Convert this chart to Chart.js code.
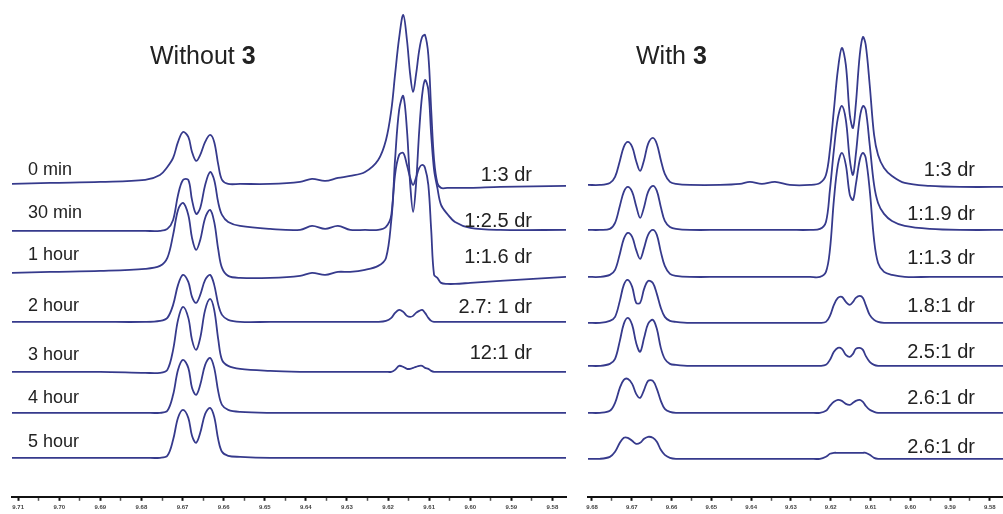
<!DOCTYPE html>
<html>
<head>
<meta charset="utf-8">
<script src="https://cdn.jsdelivr.net/npm/chart.js@4"></script>
<style>
  html, body { margin: 0; padding: 0; background: #fff; overflow: hidden; width: 1003px; height: 514px; }
  canvas { position: absolute; top: 0; }
  #leftChart { left: 0; }
  #rightChart { left: 576px; }
</style>
</head>
<body>
<canvas id="leftChart" width="575" height="514"></canvas>
<canvas id="rightChart" width="427" height="514"></canvas>
<script>
// chemical shift (ppm) of the points
const leftPpm = [9.7115, 9.7022, 9.6900, 9.6791, 9.6755, 9.6737, 9.6723, 9.6711, 9.6699, 9.6686,
  9.6677, 9.6667, 9.6657, 9.6645, 9.6633, 9.6623, 9.6613, 9.6604, 9.6589, 9.6560,
  9.6487, 9.6414, 9.6385, 9.6353, 9.6322, 9.6292, 9.6256, 9.6224, 9.6205, 9.6192,
  9.6183, 9.6173, 9.6163, 9.6154, 9.6146, 9.6139, 9.6132, 9.6124, 9.6117, 9.6110,
  9.6102, 9.6095, 9.6088, 9.6080, 9.6071, 9.6056, 9.6037, 9.6000, 9.5927, 9.5767];

const rightPpm = [9.6810, 9.6780, 9.6755, 9.6742, 9.6730, 9.6720, 9.6710, 9.6699, 9.6689, 9.6679,
  9.6669, 9.6659, 9.6647, 9.6637, 9.6627, 9.6617, 9.6604, 9.6589, 9.6554, 9.6478,
  9.6428, 9.6403, 9.6373, 9.6340, 9.6303, 9.6252, 9.6227, 9.6212, 9.6202, 9.6192,
  9.6182, 9.6172, 9.6162, 9.6152, 9.6144, 9.6137, 9.6127, 9.6119, 9.6112, 9.6102,
  9.6091, 9.6081, 9.6066, 9.6046, 9.6014, 9.5951, 9.5875, 9.5750];

// "Without 3" intensities, relative to each spectrum's baseline
const left0min = [-1, 0, 1, 3, 8, 16, 25, 41, 51, 46, 31, 22, 28, 41, 48, 41, 18, 3, -1, -1,
  -1, 1, 4, 2, 5, 7, 11, 23, 43, 73, 108, 145, 168, 143, 108, 91, 108, 133, 146, 148,
  128, 73, 23, 0, -5, -5, -5, -5, -4, -3];
const left30min = [-1, -1, -1, -1, -1, 1, 10, 35, 50, 50, 30, 16, 22, 45, 58, 50, 27, 15, 8, 4,
  1, 0, 4, 1, 4, 0, 0, 0, 3, 15, 70, 120, 134, 100, 45, 18, 45, 100, 135, 150,
  140, 95, 60, 42, 25, 16, 8, 2, 0, 0];
const left1h = [-1, 0, 1, 3, 6, 14, 37, 62, 69, 57, 34, 22, 32, 54, 62, 50, 22, 4, -4, -6,
  -6, -4, -1, -3, 0, 0, 2, 6, 14, 52, 97, 117, 119, 107, 94, 87, 94, 104, 107, 104,
  87, 42, -3, -6, -11, -12, -12, -11, -9, -5];
const left2h = [0, 0, 0, 0, 1, 4, 17, 37, 47, 40, 25, 19, 27, 42, 47, 37, 17, 7, 2, 0,
  0, 0, 0, 0, 0, 0, 0, 0, 1, 4, 9, 12, 10, 6, 5, 6, 9, 11, 12, 9,
  4, 1, 0, 0, 0, 0, 0, 0, 0, 0];
const left3h = [0, 0, 0, -1, -1, 2, 22, 52, 65, 54, 32, 22, 34, 62, 73, 62, 32, 12, 6, 3,
  1, 0, 0, 0, 0, 0, 0, 0, 0, 0, 2, 6, 5, 3, 3, 4, 5, 6, 6, 4,
  3, 1, 0, 0, 0, 0, 0, 0, 0, 0];
const left4h = [0, 0, 0, 0, 0, 2, 18, 43, 53, 45, 25, 18, 28, 48, 55, 45, 21, 8, 3, 1,
  0, 0, 0, 0, 0, 0, 0, 0, 0, 0, 0, 0, 0, 0, 0, 0, 0, 0, 0, 0,
  0, 0, 0, 0, 0, 0, 0, 0, 0, 0];
const left5h = [0, 0, 0, 0, 0, 2, 18, 40, 48, 40, 22, 15, 25, 44, 50, 41, 18, 6, 2, 1,
  0, 0, 0, 0, 0, 0, 0, 0, 0, 0, 0, 0, 0, 0, 0, 0, 0, 0, 0, 0,
  0, 0, 0, 0, 0, 0, 0, 0, 0, 0];

// "With 3" intensities
const right0min = [0, 0, 2, 8, 24, 38, 43, 38, 24, 14, 25, 41, 47, 41, 25, 11, 3, 1, 0, 0,
  1, 3, 1, 3, 0, 0, 2, 10, 35, 75, 115, 137, 120, 70, 57, 80, 130, 148, 140, 100,
  50, 30, 17, 9, 2, -1, -2, -2];
const right30min = [0, 0, 1, 7, 24, 38, 43, 38, 24, 12, 23, 38, 44, 39, 23, 9, 3, 1, 0, 0,
  0, 0, 0, 0, 0, 0, 1, 8, 40, 80, 112, 124, 110, 70, 55, 75, 112, 124, 120, 85,
  45, 27, 16, 9, 4, 1, 0, 0];
const right1h = [0, 0, 2, 7, 23, 38, 44, 40, 27, 18, 29, 42, 47, 42, 25, 11, 3, 1, 0, 0,
  0, 0, 0, 0, 0, 0, 0, 5, 27, 77, 112, 124, 112, 82, 77, 92, 117, 124, 119, 87,
  37, 14, 5, 2, 0, 0, 0, 0];
const right2h = [0, 0, 2, 6, 22, 38, 43, 36, 20, 20, 34, 42, 40, 29, 15, 6, 2, 1, 0, 0,
  0, 0, 0, 0, 0, 0, 0, 1, 7, 18, 25, 26, 21, 18, 21, 25, 27, 25, 18, 8,
  3, 1, 0, 0, 0, 0, 0, 0];
const right3h = [0, 0, 2, 7, 25, 42, 48, 41, 23, 14, 28, 42, 46, 37, 18, 7, 2, 1, 0, 0,
  0, 0, 0, 0, 0, 0, 0, 1, 6, 14, 18, 17, 11, 9, 12, 17, 18, 16, 10, 4,
  1, 0, 0, 0, 0, 0, 0, 0];
const right4h = [0, 0, 2, 10, 25, 33, 34, 29, 19, 15, 23, 32, 32, 24, 12, 4, 1, 0, 0, 0,
  0, 0, 0, 0, 0, 0, 0, 2, 7, 11, 13, 12, 9, 8, 10, 12, 13, 11, 7, 3,
  1, 0, 0, 0, 0, 0, 0, 0];
const right5h = [0, 0, 2, 7, 16, 21, 21, 18, 15, 16, 20, 22, 21, 17, 9, 4, 1, 0, 0, 0,
  0, 0, 0, 0, 0, 0, 0, 2, 5, 6, 6, 6, 6, 6, 6, 6, 6, 6, 6, 4,
  1, 0, 0, 0, 0, 0, 0, 0];

// vertical stacking of the spectra (baseline height above the axis)
const leftOffsets = [314, 267, 225, 175, 125, 84, 39];
const rightOffsets = [312, 267, 220, 174, 131, 84, 38];

const timeLabels = ["0 min", "30 min", "1 hour", "2 hour", "3 hour", "4 hour", "5 hour"];
const leftRatios = ["1:3 dr", "1:2.5 dr", "1:1.6 dr", "2.7: 1 dr", "12:1 dr"];
const rightRatios = ["1:3 dr", "1:1.9 dr", "1:1.3 dr", "1.8:1 dr", "2.5:1 dr", "2.6:1 dr", "2.6:1 dr"];

const leftTicks = [9.71, 9.70, 9.69, 9.68, 9.67, 9.66, 9.65, 9.64, 9.63, 9.62, 9.61, 9.60, 9.59, 9.58];
const rightTicks = [9.68, 9.67, 9.66, 9.65, 9.64, 9.63, 9.62, 9.61, 9.60, 9.59, 9.58];

const FONT = '"Liberation Sans", Arial, sans-serif';
const LINE = "#363a8c";

function isMajor(v) {
  return Math.abs(v * 100 - Math.round(v * 100)) < 1e-6;
}

function makeSets(ppm, traces, offsets) {
  return traces.map((vals, i) => ({
    data: vals.map((v, j) => ({ x: ppm[j], y: v + offsets[i] })),
    borderColor: LINE,
    borderWidth: 1.8,
    pointRadius: 0,
    fill: false,
    tension: 0.35
  }));
}

// titles and the per-spectrum labels
const panelText = {
  id: "panelText",
  afterDatasetsDraw(chart, args, opts) {
    const ctx = chart.ctx;
    ctx.save();
    ctx.fillStyle = "#222";
    ctx.textBaseline = "middle";

    ctx.textAlign = "left";
    ctx.font = "25px " + FONT;
    ctx.fillText(opts.title, opts.titleX, 57);
    const w = ctx.measureText(opts.title).width;
    ctx.font = "bold 25px " + FONT;
    ctx.fillText("3", opts.titleX + w, 57);

    if (opts.times) {
      ctx.font = "18px " + FONT;
      opts.times.forEach((t, i) => ctx.fillText(t, 28, opts.timeY[i]));
    }

    ctx.textAlign = "right";
    ctx.font = "20px " + FONT;
    opts.ratios.forEach((t, i) => ctx.fillText(t, opts.ratioX, opts.ratioY[i]));
    ctx.restore();
  }
};

function makeChart(id, ppm, traces, offsets, ticks, xMax, pad, text) {
  return new Chart(document.getElementById(id), {
    type: "line",
    data: { datasets: makeSets(ppm, traces, offsets) },
    plugins: [panelText],
    options: {
      responsive: false,
      animation: false,
      layout: { padding: { left: pad[0], right: pad[1], top: 0, bottom: 0 } },
      plugins: {
        legend: { display: false },
        tooltip: { enabled: false },
        panelText: text
      },
      scales: {
        x: {
          type: "linear",
          reverse: true,
          min: 9.5767,
          max: xMax,
          afterBuildTicks: (scale) => {
            const list = [];
            ticks.forEach(v => {
              list.push({ value: v });
              if (v - 0.005 > scale.min) list.push({ value: v - 0.005 });
            });
            scale.ticks = list;
          },
          ticks: {
            autoSkip: false,
            maxRotation: 0,
            minRotation: 0,
            padding: 3,
            color: "#444",
            font: { family: FONT, size: 6, weight: "bold" },
            callback: (v) => isMajor(v) ? v.toFixed(2) : ""
          },
          grid: {
            drawOnChartArea: false,
            drawTicks: true,
            tickLength: 4,
            tickColor: (c) => c.tick && isMajor(c.tick.value) ? "#111" : "#555",
            tickWidth: (c) => c.tick && isMajor(c.tick.value) ? 2 : 1.5
          },
          border: { display: true, color: "#111", width: 2 }
        },
        y: { display: false, min: 0, max: 497 }
      }
    }
  });
}

makeChart("leftChart", leftPpm,
  [left0min, left30min, left1h, left2h, left3h, left4h, left5h],
  leftOffsets, leftTicks, 9.7115, [12, 9], {
    title: "Without ", titleX: 150,
    times: timeLabels, timeY: [170, 213, 255, 306, 355, 398, 442],
    ratios: leftRatios, ratioX: 532, ratioY: [175, 221, 257, 307, 353]
  });

makeChart("rightChart", rightPpm,
  [right0min, right30min, right1h, right2h, right3h, right4h, right5h],
  rightOffsets, rightTicks, 9.681, [12, 0], {
    title: "With ", titleX: 60,
    ratios: rightRatios, ratioX: 399, ratioY: [170, 214, 258, 306, 352, 398, 447]
  });
</script>
</body>
</html>
